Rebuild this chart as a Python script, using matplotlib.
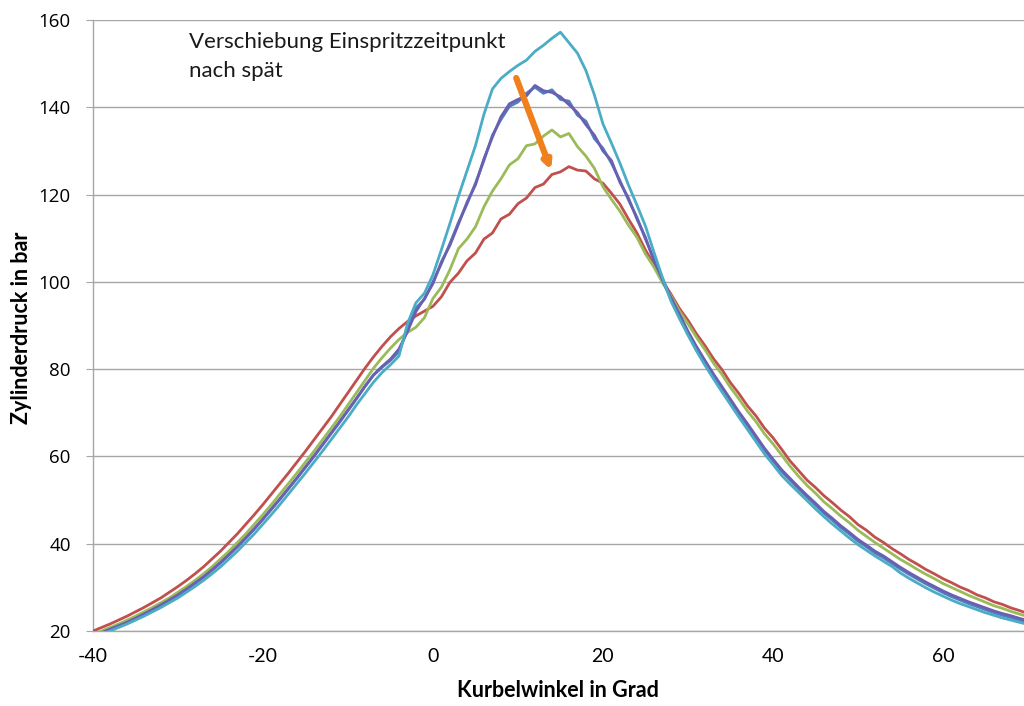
import numpy as np
import matplotlib
matplotlib.use("Agg")
import matplotlib.pyplot as plt

plt.rcParams["axes.unicode_minus"] = False

# crank angle, one value per degree
kurbelwinkel = np.arange(-40, 71)

# cylinder pressure in bar, one list per injection timing
druck_rot = [
    20.0, 20.8, 21.6, 22.5, 23.4, 24.4, 25.4, 26.5, 27.6, 28.9,
    30.2, 31.6, 33.1, 34.7, 36.5, 38.3, 40.3, 42.3, 44.5, 46.7,
    49.0, 51.4, 53.8, 56.2, 58.7, 61.2, 63.8, 66.4, 69.0, 71.8,
    74.6, 77.4, 80.2, 82.8, 85.2, 87.4, 89.3, 90.9, 92.2, 93.3,
    94.4, 96.6, 99.9, 102.0, 104.8, 106.6, 109.8, 111.2, 114.4, 115.5,
    117.9, 119.2, 121.6, 122.4, 124.6, 125.2, 126.4, 125.6, 125.4, 123.6,
    122.6, 120.3, 117.8, 114.4, 111.2, 107.3, 104.0, 100.2, 97.2, 93.9,
    91.2, 88.1, 85.4, 82.4, 79.9, 76.9, 74.4, 71.6, 69.3, 66.5,
    64.3, 61.7, 59.0, 56.8, 54.6, 52.9, 51.0, 49.4, 47.7, 46.2,
    44.4, 43.1, 41.5, 40.3, 38.9, 37.7, 36.4, 35.3, 34.1, 33.1,
    32.0, 31.1, 30.1, 29.3, 28.3, 27.6, 26.7, 26.1, 25.3, 24.7,
    24.0,
]

druck_gruen = [
    19.3, 20.0, 20.8, 21.6, 22.5, 23.4, 24.4, 25.4, 26.5, 27.6,
    28.9, 30.2, 31.6, 33.1, 34.7, 36.5, 38.3, 40.3, 42.3, 44.5,
    46.7, 49.0, 51.4, 53.8, 56.2, 58.7, 61.2, 63.8, 66.4, 69.0,
    71.8, 74.6, 77.4, 80.2, 82.6, 84.8, 86.8, 88.4, 89.6, 91.8,
    96.2, 98.8, 102.8, 107.6, 109.8, 112.6, 117.2, 120.8, 123.6, 126.8,
    128.2, 131.2, 131.6, 133.4, 134.8, 133.2, 134.0, 131.0, 128.8, 126.0,
    121.8, 118.9, 116.2, 113.0, 110.2, 106.4, 103.4, 99.8, 96.8, 93.3,
    90.4, 87.3, 84.5, 81.4, 78.8, 75.8, 73.2, 70.4, 68.0, 65.2,
    62.9, 60.4, 57.8, 55.5, 53.4, 51.6, 49.6, 48.0, 46.3, 44.8,
    43.1, 41.7, 40.3, 39.0, 37.7, 36.4, 35.3, 34.1, 33.0, 32.0,
    30.9, 30.0, 29.1, 28.2, 27.4, 26.6, 25.8, 25.2, 24.5, 23.9,
    23.3,
]

druck_blau = [
    18.8, 19.5, 20.3, 21.1, 21.9, 22.8, 23.8, 24.8, 25.9, 27.0,
    28.2, 29.5, 30.9, 32.3, 33.9, 35.6, 37.4, 39.3, 41.3, 43.4,
    45.6, 47.9, 50.2, 52.6, 55.0, 57.5, 60.0, 62.6, 65.2, 67.8,
    70.5, 73.2, 76.0, 78.6, 80.4, 82.0, 84.0, 89.0, 94.0, 96.0,
    100.0, 104.2, 108.8, 113.6, 117.8, 122.6, 127.8, 133.6, 137.2, 140.2,
    141.2, 143.2, 144.6, 143.2, 144.0, 141.8, 141.4, 138.2, 136.8, 132.8,
    130.6, 127.2, 123.2, 118.8, 114.8, 109.8, 105.2, 100.4, 96.0, 92.2,
    88.3, 84.8, 81.6, 78.5, 75.6, 72.7, 69.8, 67.1, 64.3, 61.5,
    59.0, 56.6, 54.6, 52.6, 50.7, 48.9, 47.0, 45.4, 43.7, 42.2,
    40.6, 39.3, 37.9, 36.8, 35.5, 34.2, 33.0, 31.9, 30.8, 29.8,
    28.8, 27.9, 27.1, 26.3, 25.6, 24.9, 24.2, 23.6, 23.1, 22.5,
    22.0,
]

druck_lila = [
    18.9, 19.6, 20.4, 21.2, 22.0, 22.9, 23.9, 24.9, 26.0, 27.1,
    28.3, 29.6, 31.0, 32.4, 34.0, 35.7, 37.5, 39.4, 41.4, 43.5,
    45.7, 48.0, 50.3, 52.7, 55.1, 57.6, 60.1, 62.7, 65.3, 67.9,
    70.6, 73.3, 76.1, 78.7, 80.6, 82.3, 84.6, 88.6, 93.2, 96.2,
    99.6, 104.6, 108.4, 113.2, 118.2, 122.2, 128.2, 133.2, 137.8, 140.8,
    141.8, 142.6, 145.0, 143.8, 143.4, 142.4, 140.6, 138.8, 136.0, 133.6,
    130.0, 127.8, 122.8, 119.2, 114.4, 110.2, 104.8, 100.8, 96.4, 92.6,
    88.7, 85.2, 82.0, 78.9, 76.0, 73.1, 70.2, 67.5, 64.7, 61.9,
    59.4, 57.0, 55.0, 53.0, 51.1, 49.3, 47.4, 45.8, 44.1, 42.6,
    41.0, 39.7, 38.3, 37.2, 35.9, 34.6, 33.4, 32.3, 31.2, 30.2,
    29.2, 28.3, 27.5, 26.7, 26.0, 25.3, 24.6, 24.0, 23.5, 22.9,
    22.4,
]

druck_tuerkis = [
    18.6, 19.3, 20.0, 20.8, 21.6, 22.5, 23.4, 24.4, 25.4, 26.5,
    27.6, 28.9, 30.2, 31.6, 33.1, 34.7, 36.5, 38.3, 40.3, 42.3,
    44.5, 46.7, 49.0, 51.4, 53.8, 56.2, 58.7, 61.2, 63.8, 66.4,
    69.0, 71.8, 74.4, 77.0, 79.2, 81.0, 83.0, 90.4, 95.2, 97.4,
    101.6, 107.4, 113.4, 119.6, 125.4, 131.2, 138.4, 144.2, 146.6, 148.2,
    149.6, 150.8, 152.8, 154.2, 155.8, 157.2, 154.8, 152.4, 148.4, 142.8,
    136.2, 131.8, 127.2, 122.2, 117.6, 112.8, 106.8, 101.0, 95.6, 91.6,
    87.8, 84.2, 80.9, 77.8, 74.8, 71.9, 69.0, 66.2, 63.4, 60.6,
    58.2, 55.7, 53.7, 51.8, 49.9, 48.0, 46.2, 44.5, 42.9, 41.3,
    39.8, 38.5, 37.2, 36.0, 34.8, 33.3, 32.1, 31.0, 29.9, 28.9,
    28.0, 27.1, 26.3, 25.6, 24.9, 24.2, 23.6, 23.0, 22.5, 22.0,
    21.5,
]

y_ticks = [20, 40, 60, 80, 100, 120, 140, 160]
x_ticks = [-40, -20, 0, 20, 40, 60]

fig = plt.figure(figsize=(10.24, 7.06), dpi=100)
ax = fig.add_axes([0.0908, 0.1062, 0.913, 0.8655])

serien = [
    (druck_rot, "#C0504D"),
    (druck_gruen, "#9BBB59"),
    (druck_blau, "#4F81BD"),
    (druck_lila, "#6A5FB0"),
    (druck_tuerkis, "#4BACC6"),
]
for werte, farbe in serien:
    ax.plot(kurbelwinkel, werte, color=farbe, lw=2.0, solid_joinstyle="round", zorder=3)

ax.set_xlim(-40, 70)
ax.set_ylim(20, 160)
ax.set_yticks(y_ticks)
ax.set_xticks(x_ticks)
ax.grid(axis="y", color="#A6A6A6", lw=1.0, zorder=0)

for side in ("top", "right"):
    ax.spines[side].set_visible(False)
for side in ("left", "bottom"):
    ax.spines[side].set_color("#A6A6A6")
    ax.spines[side].set_linewidth(1.0)

ax.tick_params(axis="y", length=5, color="#A6A6A6", pad=11, labelsize=13.5)
ax.tick_params(axis="x", length=0, pad=12, labelsize=14)
for lbl in ax.get_yticklabels():
    lbl.set_family(["Open Sans", "DejaVu Sans"])
for lbl in ax.get_xticklabels():
    lbl.set_family(["Lato", "DejaVu Sans"])

fig.text(0.545, 0.022, "Kurbelwinkel in Grad", ha="center", va="center",
         fontsize=15.5, fontweight="bold", family=["Lato", "DejaVu Sans"])
fig.text(0.021, 0.535, "Zylinderdruck in bar", ha="center", va="center", rotation=90,
         fontsize=15.5, fontweight="bold", family=["Lato", "DejaVu Sans"])

# annotation: later injection timing
ax.text(-28.7, 157.3, "Verschiebung Einspritzzeitpunkt\nnach spät", ha="left", va="top",
        fontsize=16, family=["Lato", "DejaVu Sans"], linespacing=1.6, color="#1a1a1a")
ax.annotate("", xy=(13.9, 125.6), xytext=(9.8, 146.7),
            arrowprops=dict(arrowstyle="-|>", color="#F07F1E", lw=4.5,
                            mutation_scale=11, shrinkA=0, shrinkB=0),
            zorder=5)

fig.savefig("out.png", dpi=100)
